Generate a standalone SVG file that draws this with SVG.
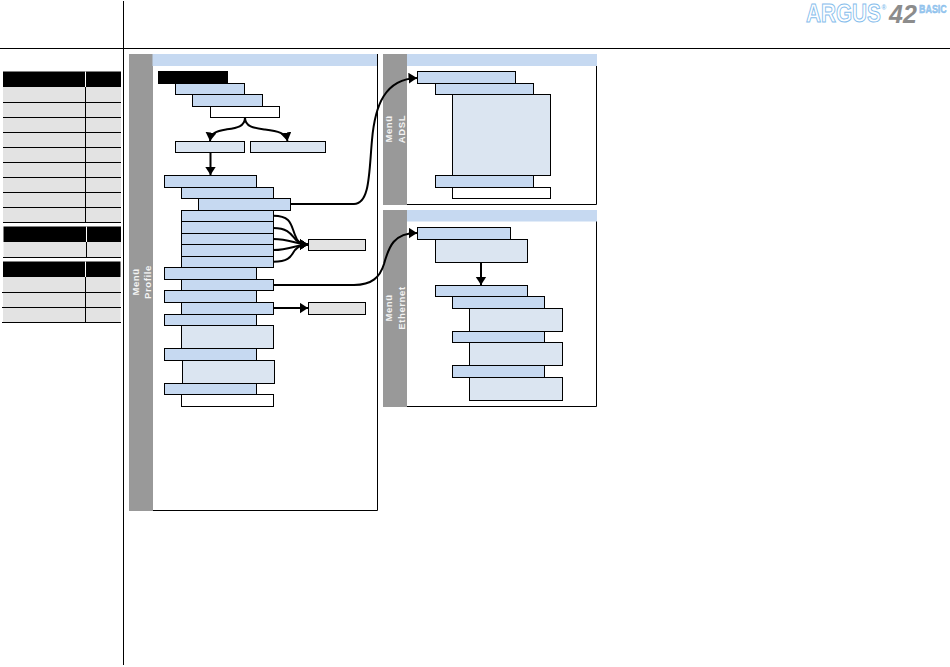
<svg xmlns="http://www.w3.org/2000/svg" width="950" height="667" viewBox="0 0 950 667">
<style>
.b{fill:#c6d9f1;stroke:#000;stroke-width:1}
.l{fill:#dbe5f1;stroke:#000;stroke-width:1}
.w{fill:#fff;stroke:#000;stroke-width:1}
.g{fill:#e3e3e3;stroke:#000;stroke-width:1}
.k{fill:#000;stroke:none}
.row{fill:#e3e3e3}
.rule{stroke:#000;stroke-width:1;fill:none}
.side{fill:#999}
.head{fill:#c6d9f1}
.ca{fill:none;stroke:#000;stroke-width:2;marker-end:url(#ah)}
.t{font-family:"Liberation Sans",Arial,sans-serif;font-size:9.500px;font-weight:bold;fill:#f4f4f4;letter-spacing:.6px;text-anchor:middle}
.lg{font-family:"Liberation Sans",Arial,sans-serif;font-weight:bold}
</style>
<defs>
<marker id="ah" markerUnits="userSpaceOnUse" markerWidth="10" markerHeight="12" refX="8.500" refY="5.500" orient="auto"><path d="M0,0L8.500,5.500L0,11z" fill="#000"/></marker>
</defs>
<rect width="950" height="667" fill="#fff"/>
<g id="frame">
<path class="rule" d="M0,48.500H950M123.500,1V665"/>
</g>
<g id="logo">
<text class="lg" transform="translate(806,22) scale(.83,1)" font-size="25" fill="#fff" stroke="#85bdec" stroke-width="1">ARGUS</text>
<text class="lg" x="881.500" y="10" font-size="6.500" fill="#85bdec">®</text>
<text class="lg" x="889" y="22.500" font-size="25" font-style="italic" fill="#8c8c8c">42</text>
<text class="lg" transform="translate(919,12.500) scale(.85,1)" font-size="10.500" fill="#9cc9f0" stroke="#7db8ea" stroke-width=".4">BASIC</text>
</g>
<g id="table1">
<rect class="k" x="3" y="71.500" width="118" height="15.500"/>
<rect class="row" x="3" y="87" width="118" height="135"/>
<path d="M85.500,71.500V87" stroke="#fff" fill="none"/>
<path class="rule" d="M85.500,87V222M3,102.500H121M3,117.500H121M3,132.500H121M3,147.500H121M3,162.500H121M3,177.500H121M3,192.500H121M3,207.500H121M3,222.500H121"/>
</g>
<g id="table2">
<rect class="k" x="3.500" y="226.500" width="117.500" height="15.500"/>
<rect class="row" x="3.500" y="242" width="117.500" height="15"/>
<path d="M86.500,226.500V242" stroke="#fff" fill="none"/>
<path class="rule" d="M86.500,242V257M3,257.500H121"/>
</g>
<g id="table3">
<rect class="k" x="3" y="261.500" width="117.500" height="15.500"/>
<rect class="row" x="3" y="277" width="117.500" height="45"/>
<path d="M85.500,261.500V277" stroke="#fff" fill="none"/>
<path class="rule" d="M85.500,277V322M2,292.500H121M2,307.500H121M2,322.500H121"/>
</g>
<g id="panel-profile">
<path class="rule" d="M377.500,54V510.500H153"/>
<rect class="side" x="129" y="54" width="24" height="457"/>
<rect class="head" x="152.500" y="54" width="224.500" height="12"/>
<text class="t" transform="translate(139,282) rotate(-90)">Menü</text>
<text class="t" transform="translate(151,282) rotate(-90)">Profile</text>
</g>
<g id="panel-adsl">
<path class="rule" d="M596.500,54V204.500H407"/>
<rect class="side" x="383" y="54" width="24" height="151"/>
<rect class="head" x="407" y="54" width="190" height="12"/>
<text class="t" transform="translate(392,129) rotate(-90)">Menü</text>
<text class="t" transform="translate(405,129) rotate(-90)">ADSL</text>
</g>
<g id="panel-ethernet">
<path class="rule" d="M596.500,210V406.500H407"/>
<rect class="side" x="383" y="210" width="24" height="197"/>
<rect class="head" x="407" y="210" width="190" height="11.500"/>
<text class="t" transform="translate(392,308) rotate(-90)">Menü</text>
<text class="t" transform="translate(405,308) rotate(-90)">Ethernet</text>
</g>
<g id="connectors">
<path class="ca" d="M245,117.500C245,127 236,128 226,129.500C216,131 211,133 210,141"/>
<path class="ca" d="M245,117.500C245,127 254,128 265,129.500C278,131 286,133 287.500,141"/>
<path class="ca" d="M210.500,152.500V175"/>
<path class="ca" d="M290.500,204H354C370,204 369,172 372,140C375,105 385,79 417,78"/>
<path class="ca" d="M273.500,215.700C291,215.700 291,225 295,235C297,241 300,244.500 308,244.500"/>
<path class="ca" d="M273.500,228C289,228 292,236 296,240C299,243 302,244.500 308,244.500"/>
<path class="ca" d="M273.500,239C290,239 296,244.500 308,244.500"/>
<path class="ca" d="M273.500,250C290,250 296,244.500 308,244.500"/>
<path class="ca" d="M273.500,261.700C291,261.700 291,255 295,250C298,246.500 301,244.500 308,244.500"/>
<path class="ca" d="M273.500,285H354C372,285 380,277 384,264C389,246 394,233 417,233"/>
<path class="ca" d="M273.500,308H308"/>
<path class="ca" d="M481,262.500V285"/>
</g>
<g id="n1"><rect class="k" x="158" y="71" width="70" height="13"/></g>
<g id="n2"><rect class="b" x="175.500" y="83.500" width="69" height="11"/></g>
<g id="n3"><rect class="b" x="192.500" y="94.500" width="70" height="12"/></g>
<g id="n4"><rect class="w" x="210.500" y="106.500" width="69" height="11"/></g>
<g id="n5"><rect class="l" x="175.500" y="141.500" width="69" height="11"/></g>
<g id="n6"><rect class="l" x="250.500" y="141.500" width="75" height="11"/></g>
<g id="n7"><rect class="b" x="164.500" y="175.500" width="92" height="12"/></g>
<g id="n8"><rect class="b" x="181.500" y="187.500" width="92" height="11"/></g>
<g id="n9"><rect class="b" x="198.500" y="198.500" width="92" height="12"/></g>
<g id="n10"><rect class="b" x="181.500" y="210.500" width="92" height="11"/></g>
<g id="n11"><rect class="b" x="181.500" y="221.500" width="92" height="12"/></g>
<g id="n12"><rect class="b" x="181.500" y="233.500" width="92" height="11"/></g>
<g id="n13"><rect class="b" x="181.500" y="244.500" width="92" height="12"/></g>
<g id="n14"><rect class="b" x="181.500" y="256.500" width="92" height="11"/></g>
<g id="n15"><rect class="b" x="164.500" y="267.500" width="92" height="12"/></g>
<g id="n16"><rect class="b" x="181.500" y="279.500" width="92" height="11"/></g>
<g id="n17"><rect class="b" x="164.500" y="290.500" width="92" height="12"/></g>
<g id="n18"><rect class="b" x="181.500" y="302.500" width="92" height="12"/></g>
<g id="n19"><rect class="b" x="164.500" y="314.500" width="92" height="11"/></g>
<g id="n20"><rect class="l" x="181.500" y="325.500" width="92" height="23"/></g>
<g id="n21"><rect class="b" x="164.500" y="348.500" width="92" height="12"/></g>
<g id="n22"><rect class="l" x="182.500" y="360.500" width="92" height="23"/></g>
<g id="n23"><rect class="b" x="164.500" y="383.500" width="92" height="11"/></g>
<g id="n24"><rect class="w" x="181.500" y="394.500" width="92" height="12"/></g>
<g id="n25"><rect class="g" x="308.500" y="239.500" width="57" height="11"/></g>
<g id="n26"><rect class="g" x="308.500" y="302.500" width="57" height="12"/></g>
<g id="a1"><rect class="b" x="417.500" y="71.500" width="98" height="12"/></g>
<g id="a2"><rect class="b" x="435.500" y="83.500" width="98" height="11"/></g>
<g id="a3"><rect class="l" x="452.500" y="94.500" width="98" height="81"/></g>
<g id="a4"><rect class="b" x="435.500" y="175.500" width="98" height="12"/></g>
<g id="a5"><rect class="w" x="452.500" y="187.500" width="98" height="11"/></g>
<g id="e1"><rect class="b" x="417.500" y="227.500" width="93" height="12"/></g>
<g id="e2"><rect class="l" x="435.500" y="239.500" width="92" height="23"/></g>
<g id="e3"><rect class="b" x="435.500" y="285.500" width="92" height="11"/></g>
<g id="e4"><rect class="b" x="452.500" y="296.500" width="92" height="12"/></g>
<g id="e5"><rect class="l" x="469.500" y="308.500" width="93" height="23"/></g>
<g id="e6"><rect class="b" x="452.500" y="331.500" width="92" height="11"/></g>
<g id="e7"><rect class="l" x="469.500" y="342.500" width="93" height="23"/></g>
<g id="e8"><rect class="b" x="452.500" y="365.500" width="92" height="12"/></g>
<g id="e9"><rect class="l" x="469.500" y="377.500" width="93" height="23"/></g>
</svg>
